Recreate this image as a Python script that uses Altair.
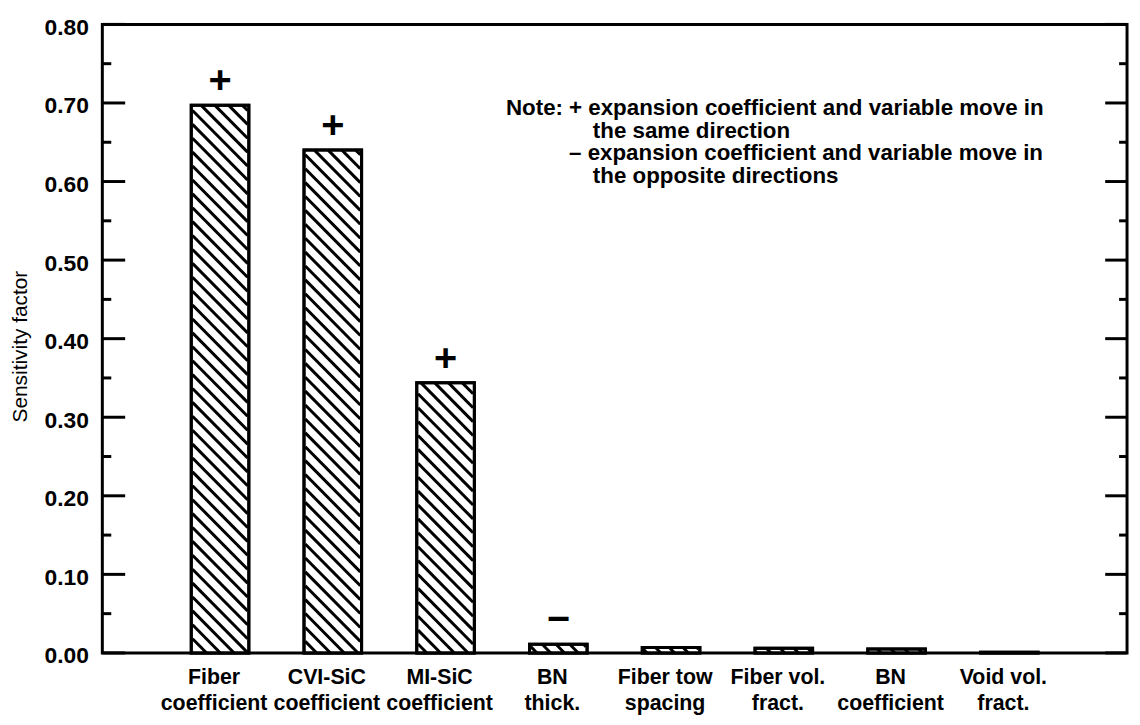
import math
import altair as alt
import pandas as pd

# ---------------- data ----------------
CATEGORIES = [
    "Fiber\ncoefficient", "CVI-SiC\ncoefficient", "MI-SiC\ncoefficient", "BN\nthick.",
    "Fiber tow\nspacing", "Fiber vol.\nfract.", "BN\ncoefficient", "Void vol.\nfract.",
]
VALUES = [0.697, 0.640, 0.344, 0.011, 0.007, 0.006, 0.005, 0.001]
SIGNS = ["+", "+", "+", "\u2212", "", "", "", ""]
MAJOR_TICKS = [0.0, 0.1, 0.2, 0.3, 0.4, 0.5, 0.6, 0.7, 0.8]
MINOR_TICKS = [0.05, 0.15, 0.25, 0.35, 0.45, 0.55, 0.65, 0.75]
NOTE_HEAD = "Note:"
NOTE_LINES = [
    "+ expansion coefficient and variable move in",
    "the same direction",
    "\u2013 expansion coefficient and variable move in",
    "the opposite directions",
]
Y_TITLE = "Sensitivity factor"

# ---------------- layout ----------------
W, H = 1032, 633
FONT = "Liberation Sans"
X_DOMAIN = [-1, 8]
Y_DOMAIN = [0, 0.8]
BAR_W = 58
HATCH_SP = 14

df = pd.DataFrame({
    "idx": list(range(len(CATEGORIES))),
    "label": CATEGORIES,
    "value": VALUES,
    "sign": SIGNS,
})

# hatch segments (diagonal "\" lines clipped to each bar), derived from the values
pxu_x = W / (X_DOMAIN[1] - X_DOMAIN[0])
pxu_y = H / (Y_DOMAIN[1] - Y_DOMAIN[0])
rows = []
half = BAR_W / 2 - 1
for i, v in enumerate(VALUES):
    cx = (i - X_DOMAIN[0]) * pxu_x
    L, R = cx - half, cx + half
    T, B = H - v * pxu_y, H
    c = math.floor((T - R) / HATCH_SP) * HATCH_SP
    while c <= B - L:
        x0 = max(L, T - c)
        x1 = min(R, B - c)
        if x1 > x0:
            rows.append({
                "hx": x0 / pxu_x + X_DOMAIN[0],
                "hx2": x1 / pxu_x + X_DOMAIN[0],
                "hy": (H - (x0 + c)) / pxu_y,
                "hy2": (H - (x1 + c)) / pxu_y,
            })
        c += HATCH_SP
hatch = pd.DataFrame(rows)

xs = alt.Scale(domain=X_DOMAIN, nice=False, zero=False)
ys = alt.Scale(domain=Y_DOMAIN, nice=False)

bars = alt.Chart(df).mark_bar(size=BAR_W, fill="white", stroke="black", strokeWidth=3).encode(
    x=alt.X("idx:Q", scale=xs, axis=None),
    y=alt.Y("value:Q", scale=ys, title=Y_TITLE,
            axis=alt.Axis(values=MAJOR_TICKS, format=".2f", ticks=False, domain=False, grid=False,
                          labelFont=FONT, labelFontSize=23, labelFontWeight="bold", labelColor="black",
                          labelPadding=14, labelOffset=3,
                          titleFont=FONT, titleFontSize=21, titleFontWeight="normal", titleColor="black",
                          titleX=-82, titleY=324, titleAlign="center", titleBaseline="middle")),
)

hatch_layer = alt.Chart(hatch).mark_rule(color="black", strokeWidth=3, strokeCap="butt").encode(
    x=alt.X("hx:Q", scale=xs), x2="hx2:Q",
    y=alt.Y("hy:Q", scale=ys), y2="hy2:Q",
)

outline = alt.Chart(df).mark_bar(size=BAR_W, fillOpacity=0, stroke="black", strokeWidth=3).encode(
    x=alt.X("idx:Q", scale=xs), y=alt.Y("value:Q", scale=ys),
)

signs = alt.Chart(df).mark_text(font=FONT, fontSize=40, fontWeight="bold", color="black",
                                baseline="alphabetic", dy=-12).encode(
    x=alt.X("idx:Q", scale=xs), y=alt.Y("value:Q", scale=ys), text="sign:N",
)

xlabels = alt.Chart(df).mark_text(font=FONT, fontSize=21.5, fontWeight="bold", color="black",
                                  baseline="alphabetic", align="center", lineBreak="\n",
                                  lineHeight=26, dx=-6).encode(
    x=alt.X("idx:Q", scale=xs), y=alt.value(H + 31), text="label:N",
)

tick_df = pd.DataFrame({"t": MAJOR_TICKS})
minor_df = pd.DataFrame({"t": MINOR_TICKS})
tick_layers = [
    alt.Chart(tick_df).mark_rule(color="black", strokeWidth=3).encode(
        y=alt.Y("t:Q", scale=ys), x=alt.value(0), x2=alt.value(23)),
    alt.Chart(tick_df).mark_rule(color="black", strokeWidth=3).encode(
        y=alt.Y("t:Q", scale=ys), x=alt.value(W - 22), x2=alt.value(W)),
    alt.Chart(minor_df).mark_rule(color="black", strokeWidth=3).encode(
        y=alt.Y("t:Q", scale=ys), x=alt.value(0), x2=alt.value(9)),
    alt.Chart(minor_df).mark_rule(color="black", strokeWidth=3).encode(
        y=alt.Y("t:Q", scale=ys), x=alt.value(W - 8), x2=alt.value(W)),
]

# note block: "Note:" right-aligned just before the sign column, lines left-aligned
note_specs = [
    (NOTE_HEAD, 464, 91, "right"),
    (NOTE_LINES[0], 470, 91, "left"),
    (NOTE_LINES[1], 494, 114, "left"),
    (NOTE_LINES[2], 470, 137, "left"),
    (NOTE_LINES[3], 494, 160, "left"),
]
note_layers = []
for t, nx, ny, al in note_specs:
    note_layers.append(
        alt.Chart(pd.DataFrame({"t": [t]})).mark_text(
            font=FONT, fontSize=22.5, fontWeight="bold", color="black",
            align=al, baseline="alphabetic").encode(
            x=alt.value(nx), y=alt.value(ny), text="t:N")
    )

chart = alt.layer(bars, hatch_layer, outline, signs, xlabels, *tick_layers, *note_layers).properties(
    width=W, height=H,
    autosize=alt.AutoSizeParams(type="none"),
    padding={"left": 95, "top": 14, "right": 5, "bottom": 62},
    background="white",
).configure_view(stroke="black", strokeWidth=3)

chart.save("out.html", embed_options={"renderer": "svg", "actions": False})
